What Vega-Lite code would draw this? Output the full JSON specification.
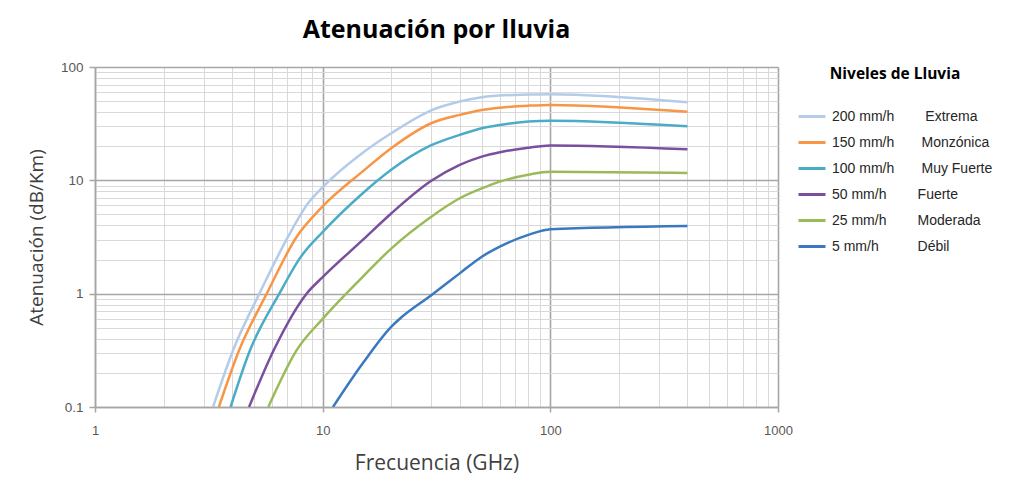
{
  "$schema": "https://vega.github.io/schema/vega-lite/v6.json",
  "autosize": {"type": "none"},
  "padding": {"left": 95, "top": 67, "right": 233, "bottom": 75},
  "width": 683,
  "height": 340,
  "background": "white",
  "title": {"text": "Atenuación por lluvia", "font": "Open Sans", "fontSize": 25, "fontWeight": "bold", "color": "#000000", "anchor": "middle", "baseline": "alphabetic", "offset": -3},
  "config": {"view": {"stroke": null}},
  "data": {"values": [
    {"f": 3.3, "a": 0.1, "nivel": "200 mm/h"}, {"f": 4.05, "a": 0.32, "nivel": "200 mm/h"}, {"f": 5.27, "a": 1.0, "nivel": "200 mm/h"}, {"f": 7.06, "a": 3.2, "nivel": "200 mm/h"}, {"f": 8.64, "a": 6.3, "nivel": "200 mm/h"}, {"f": 10, "a": 8.7, "nivel": "200 mm/h"}, {"f": 15, "a": 17.5, "nivel": "200 mm/h"}, {"f": 20, "a": 26, "nivel": "200 mm/h"}, {"f": 30, "a": 41.5, "nivel": "200 mm/h"}, {"f": 40, "a": 49.6, "nivel": "200 mm/h"}, {"f": 50, "a": 54.2, "nivel": "200 mm/h"}, {"f": 60, "a": 56, "nivel": "200 mm/h"}, {"f": 80, "a": 57.1, "nivel": "200 mm/h"}, {"f": 100, "a": 57.6, "nivel": "200 mm/h"}, {"f": 400, "a": 48.9, "nivel": "200 mm/h"},
    {"f": 3.5, "a": 0.1, "nivel": "150 mm/h"}, {"f": 4.3, "a": 0.318, "nivel": "150 mm/h"}, {"f": 5.68, "a": 1.0, "nivel": "150 mm/h"}, {"f": 7.69, "a": 3.18, "nivel": "150 mm/h"}, {"f": 10, "a": 5.9, "nivel": "150 mm/h"}, {"f": 15, "a": 12, "nivel": "150 mm/h"}, {"f": 20, "a": 19.2, "nivel": "150 mm/h"}, {"f": 30, "a": 31.9, "nivel": "150 mm/h"}, {"f": 40, "a": 37.8, "nivel": "150 mm/h"}, {"f": 50, "a": 41.8, "nivel": "150 mm/h"}, {"f": 60, "a": 43.8, "nivel": "150 mm/h"}, {"f": 80, "a": 45.6, "nivel": "150 mm/h"}, {"f": 100, "a": 46.3, "nivel": "150 mm/h"}, {"f": 400, "a": 40.2, "nivel": "150 mm/h"},
    {"f": 3.94, "a": 0.1, "nivel": "100 mm/h"}, {"f": 4.8, "a": 0.318, "nivel": "100 mm/h"}, {"f": 6.45, "a": 1.0, "nivel": "100 mm/h"}, {"f": 8, "a": 2.1, "nivel": "100 mm/h"}, {"f": 10, "a": 3.5, "nivel": "100 mm/h"}, {"f": 15, "a": 7.7, "nivel": "100 mm/h"}, {"f": 20, "a": 12.4, "nivel": "100 mm/h"}, {"f": 30, "a": 20.4, "nivel": "100 mm/h"}, {"f": 40, "a": 25.2, "nivel": "100 mm/h"}, {"f": 50, "a": 28.8, "nivel": "100 mm/h"}, {"f": 60, "a": 30.8, "nivel": "100 mm/h"}, {"f": 80, "a": 33.0, "nivel": "100 mm/h"}, {"f": 100, "a": 33.6, "nivel": "100 mm/h"}, {"f": 400, "a": 30.0, "nivel": "100 mm/h"},
    {"f": 4.75, "a": 0.1, "nivel": "50 mm/h"}, {"f": 6.1, "a": 0.318, "nivel": "50 mm/h"}, {"f": 8.5, "a": 1.0, "nivel": "50 mm/h"}, {"f": 10, "a": 1.4, "nivel": "50 mm/h"}, {"f": 15, "a": 2.98, "nivel": "50 mm/h"}, {"f": 20, "a": 5.1, "nivel": "50 mm/h"}, {"f": 30, "a": 9.9, "nivel": "50 mm/h"}, {"f": 40, "a": 13.7, "nivel": "50 mm/h"}, {"f": 50, "a": 16.2, "nivel": "50 mm/h"}, {"f": 60, "a": 17.7, "nivel": "50 mm/h"}, {"f": 80, "a": 19.4, "nivel": "50 mm/h"}, {"f": 100, "a": 20.3, "nivel": "50 mm/h"}, {"f": 400, "a": 18.8, "nivel": "50 mm/h"},
    {"f": 5.77, "a": 0.1, "nivel": "25 mm/h"}, {"f": 7.69, "a": 0.318, "nivel": "25 mm/h"}, {"f": 10, "a": 0.6, "nivel": "25 mm/h"}, {"f": 15, "a": 1.41, "nivel": "25 mm/h"}, {"f": 20, "a": 2.5, "nivel": "25 mm/h"}, {"f": 30, "a": 4.78, "nivel": "25 mm/h"}, {"f": 40, "a": 6.95, "nivel": "25 mm/h"}, {"f": 50, "a": 8.5, "nivel": "25 mm/h"}, {"f": 60, "a": 9.75, "nivel": "25 mm/h"}, {"f": 80, "a": 11.2, "nivel": "25 mm/h"}, {"f": 100, "a": 11.9, "nivel": "25 mm/h"}, {"f": 400, "a": 11.6, "nivel": "25 mm/h"},
    {"f": 11.1, "a": 0.1, "nivel": "5 mm/h"}, {"f": 15, "a": 0.243, "nivel": "5 mm/h"}, {"f": 20, "a": 0.51, "nivel": "5 mm/h"}, {"f": 22, "a": 0.61, "nivel": "5 mm/h"}, {"f": 30, "a": 0.97, "nivel": "5 mm/h"}, {"f": 40, "a": 1.51, "nivel": "5 mm/h"}, {"f": 50, "a": 2.12, "nivel": "5 mm/h"}, {"f": 60, "a": 2.6, "nivel": "5 mm/h"}, {"f": 80, "a": 3.3, "nivel": "5 mm/h"}, {"f": 100, "a": 3.7, "nivel": "5 mm/h"}, {"f": 400, "a": 3.96, "nivel": "5 mm/h"}
  ]},
  "mark": {"type": "line", "strokeWidth": 2.5, "clip": true, "interpolate": "monotone"},
  "encoding": {
    "x": {
      "field": "f", "type": "quantitative",
      "scale": {"type": "log", "domain": [1, 1000], "nice": false},
      "axis": {
        "title": "Frecuencia (GHz)",
        "titleFont": "Open Sans", "titleFontSize": 21, "titleFontWeight": "normal", "titleColor": "#404040", "titlePadding": 15,
        "values": [1,2,3,4,5,6,7,8,9,10,20,30,40,50,60,70,80,90,100,200,300,400,500,600,700,800,900,1000],
        "labelExpr": "(datum.value == 1 || datum.value == 10 || datum.value == 100 || datum.value == 1000) ? ('' + datum.value) : ''",
        "labelFont": "Liberation Sans", "labelFontSize": 13, "labelColor": "#595959", "labelPadding": 12, "labelFlush": false, "labelOverlap": false,
        "domainColor": "#a6a6a6", "domainWidth": 1.5,
        "tickSize": 5, "tickColor": "#a6a6a6", "tickWidth": 1.5,
        "tickOpacity": {"condition": {"test": "datum.value == 1 || datum.value == 10 || datum.value == 100 || datum.value == 1000", "value": 1}, "value": 0},
        "grid": true,
        "gridColor": {"condition": {"test": "datum.value == 1 || datum.value == 10 || datum.value == 100 || datum.value == 1000", "value": "#a6a6a6"}, "value": "#d9d9d9"},
        "gridWidth": {"condition": {"test": "datum.value == 1 || datum.value == 10 || datum.value == 100 || datum.value == 1000", "value": 1.6}, "value": 1}
      }
    },
    "y": {
      "field": "a", "type": "quantitative",
      "scale": {"type": "log", "domain": [0.1, 100], "nice": false},
      "axis": {
        "title": "Atenuación (dB/Km)",
        "titleFont": "Open Sans", "titleFontSize": 19, "titleFontWeight": "normal", "titleColor": "#404040", "titlePadding": 14,
        "values": [0.1,0.2,0.3,0.4,0.5,0.6,0.7,0.8,0.9,1,2,3,4,5,6,7,8,9,10,20,30,40,50,60,70,80,90,100],
        "labelExpr": "(datum.value == 0.1 || datum.value == 1 || datum.value == 10 || datum.value == 100) ? ('' + datum.value) : ''",
        "labelFont": "Liberation Sans", "labelFontSize": 13.5, "labelColor": "#595959", "labelPadding": 6, "labelFlush": false, "labelOverlap": false,
        "domainColor": "#a6a6a6", "domainWidth": 1.5,
        "tickSize": 6, "tickColor": "#a6a6a6", "tickWidth": 1.5,
        "tickOpacity": {"condition": {"test": "datum.value == 0.1 || datum.value == 1 || datum.value == 10 || datum.value == 100", "value": 1}, "value": 0},
        "grid": true,
        "gridColor": {"condition": {"test": "datum.value == 0.1 || datum.value == 1 || datum.value == 10 || datum.value == 100", "value": "#a6a6a6"}, "value": "#d9d9d9"},
        "gridWidth": {"condition": {"test": "datum.value == 0.1 || datum.value == 1 || datum.value == 10 || datum.value == 100", "value": 1.6}, "value": 1}
      }
    },
    "color": {
      "field": "nivel", "type": "nominal",
      "scale": {
        "domain": ["200 mm/h", "150 mm/h", "100 mm/h", "50 mm/h", "25 mm/h", "5 mm/h"],
        "range": ["#b4cbea", "#f79646", "#4bacc6", "#7a4f9e", "#9bbb59", "#3a78bf"]
      },
      "legend": {
        "title": "Niveles de Lluvia",
        "orient": "right", "offset": 19,
        "titleFont": "Open Sans", "titleFontSize": 15.5, "titleFontWeight": "bold", "titleColor": "#000000",
        "titleAnchor": "middle", "titleBaseline": "top", "titlePadding": 19,
        "labelFont": "Liberation Sans", "labelFontSize": 14, "labelColor": "#262626", "labelOffset": 5, "labelLimit": 300,
        "symbolType": "stroke", "symbolSize": 729, "symbolStrokeWidth": 3,
        "rowPadding": 4,
        "labelExpr": "{'200 mm/h': '200 mm/h\u00a0\u00a0\u00a0\u00a0\u00a0\u00a0\u00a0\u00a0Extrema', '150 mm/h': '150 mm/h\u00a0\u00a0\u00a0\u00a0\u00a0\u00a0\u00a0Monzónica', '100 mm/h': '100 mm/h\u00a0\u00a0\u00a0\u00a0\u00a0\u00a0\u00a0Muy Fuerte', '50 mm/h': '\u00a050 mm/h\u00a0\u00a0\u00a0\u00a0\u00a0\u00a0\u00a0\u00a0Fuerte', '25 mm/h': '\u00a025 mm/h\u00a0\u00a0\u00a0\u00a0\u00a0\u00a0\u00a0\u00a0Moderada', '5 mm/h': '\u00a05 mm/h\u00a0\u00a0\u00a0\u00a0\u00a0\u00a0\u00a0\u00a0\u00a0\u00a0Débil'}[datum.label]"
      }
    }
  }
}
